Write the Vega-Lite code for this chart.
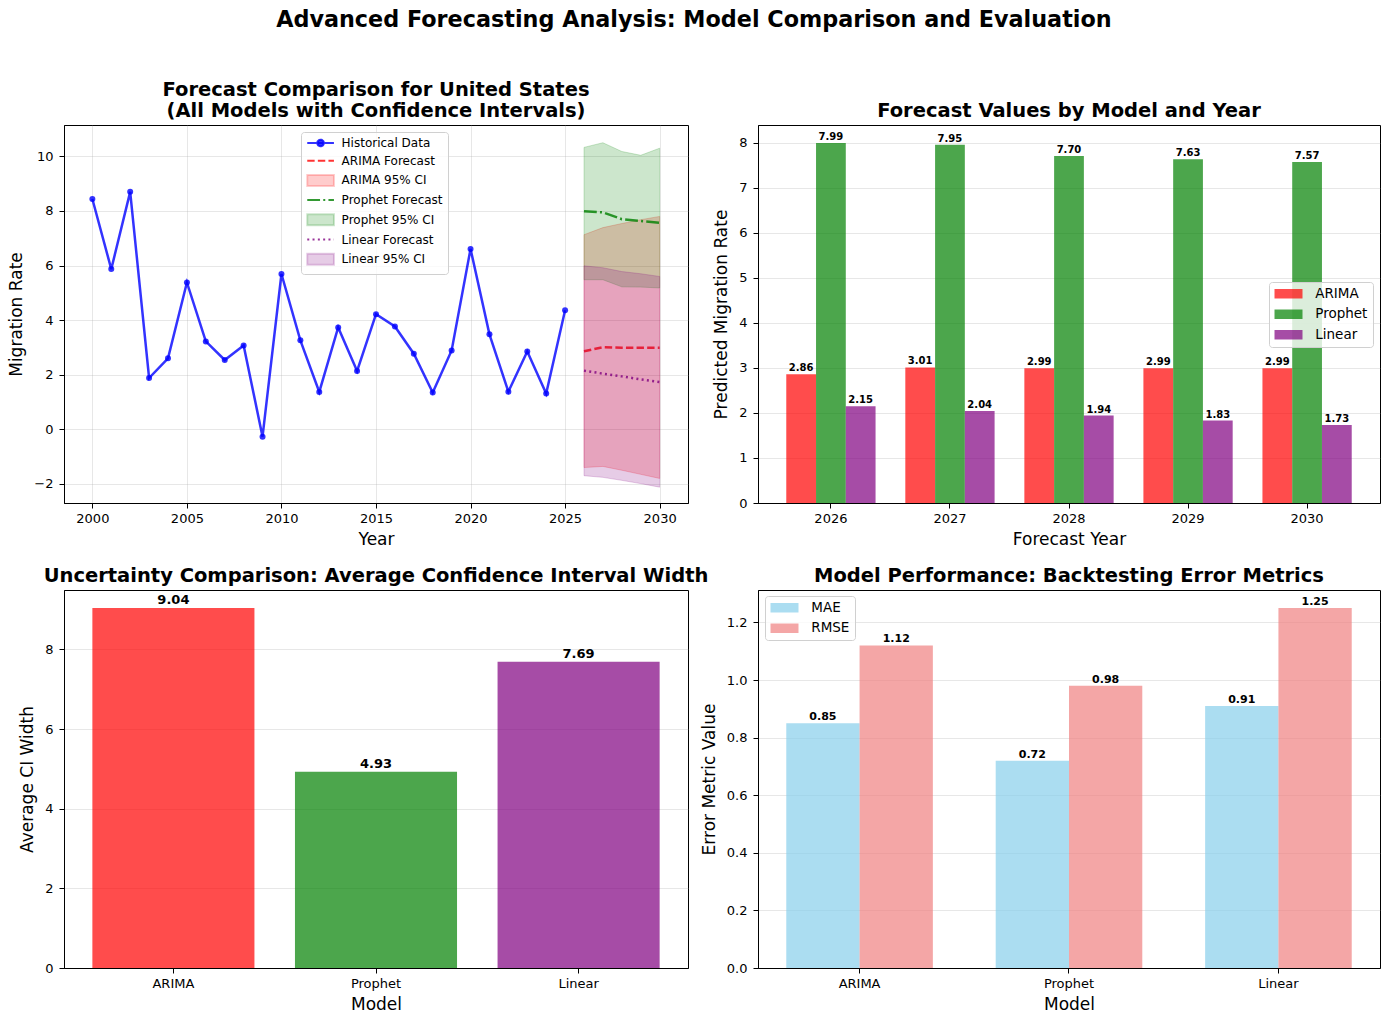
{
  "$schema": "https://vega.github.io/schema/vega-lite/v6.json",
  "padding": {"left": 7, "top": 9, "right": 9, "bottom": 10},
  "background": "white",
  "title": {
    "text": "Advanced Forecasting Analysis: Model Comparison and Evaluation",
    "fontSize": 22.3,
    "fontWeight": "bold",
    "anchor": "middle",
    "baseline": "alphabetic",
    "offset": 30
  },
  "datasets": {
    "series": [
      {"series": "Historical Data", "year": 2000, "value": 8.44},
      {"series": "Historical Data", "year": 2001, "value": 5.87},
      {"series": "Historical Data", "year": 2002, "value": 8.70},
      {"series": "Historical Data", "year": 2003, "value": 1.88},
      {"series": "Historical Data", "year": 2004, "value": 2.60},
      {"series": "Historical Data", "year": 2005, "value": 5.38},
      {"series": "Historical Data", "year": 2006, "value": 3.22},
      {"series": "Historical Data", "year": 2007, "value": 2.54},
      {"series": "Historical Data", "year": 2008, "value": 3.07},
      {"series": "Historical Data", "year": 2009, "value": -0.27},
      {"series": "Historical Data", "year": 2010, "value": 5.69},
      {"series": "Historical Data", "year": 2011, "value": 3.26},
      {"series": "Historical Data", "year": 2012, "value": 1.37},
      {"series": "Historical Data", "year": 2013, "value": 3.73},
      {"series": "Historical Data", "year": 2014, "value": 2.14},
      {"series": "Historical Data", "year": 2015, "value": 4.22},
      {"series": "Historical Data", "year": 2016, "value": 3.77},
      {"series": "Historical Data", "year": 2017, "value": 2.77},
      {"series": "Historical Data", "year": 2018, "value": 1.35},
      {"series": "Historical Data", "year": 2019, "value": 2.89},
      {"series": "Historical Data", "year": 2020, "value": 6.61},
      {"series": "Historical Data", "year": 2021, "value": 3.48},
      {"series": "Historical Data", "year": 2022, "value": 1.38},
      {"series": "Historical Data", "year": 2023, "value": 2.85},
      {"series": "Historical Data", "year": 2024, "value": 1.31},
      {"series": "Historical Data", "year": 2025, "value": 4.36},
      {"series": "ARIMA Forecast", "year": 2026, "value": 2.86},
      {"series": "ARIMA Forecast", "year": 2027, "value": 3.01},
      {"series": "ARIMA Forecast", "year": 2028, "value": 2.99},
      {"series": "ARIMA Forecast", "year": 2029, "value": 2.99},
      {"series": "ARIMA Forecast", "year": 2030, "value": 2.99},
      {"series": "Prophet Forecast", "year": 2026, "value": 7.99},
      {"series": "Prophet Forecast", "year": 2027, "value": 7.95},
      {"series": "Prophet Forecast", "year": 2028, "value": 7.70},
      {"series": "Prophet Forecast", "year": 2029, "value": 7.63},
      {"series": "Prophet Forecast", "year": 2030, "value": 7.57},
      {"series": "Linear Forecast", "year": 2026, "value": 2.15},
      {"series": "Linear Forecast", "year": 2027, "value": 2.04},
      {"series": "Linear Forecast", "year": 2028, "value": 1.94},
      {"series": "Linear Forecast", "year": 2029, "value": 1.83},
      {"series": "Linear Forecast", "year": 2030, "value": 1.73},
      {"series": "ARIMA 95% CI", "year": 2026, "lower": -1.40, "upper": 7.13},
      {"series": "ARIMA 95% CI", "year": 2027, "lower": -1.36, "upper": 7.39},
      {"series": "ARIMA 95% CI", "year": 2028, "lower": -1.50, "upper": 7.54},
      {"series": "ARIMA 95% CI", "year": 2029, "lower": -1.65, "upper": 7.68},
      {"series": "ARIMA 95% CI", "year": 2030, "lower": -1.80, "upper": 7.80},
      {"series": "Prophet 95% CI", "year": 2026, "lower": 5.48, "upper": 10.33},
      {"series": "Prophet 95% CI", "year": 2027, "lower": 5.48, "upper": 10.50},
      {"series": "Prophet 95% CI", "year": 2028, "lower": 5.22, "upper": 10.18},
      {"series": "Prophet 95% CI", "year": 2029, "lower": 5.21, "upper": 10.04},
      {"series": "Prophet 95% CI", "year": 2030, "lower": 5.18, "upper": 10.30},
      {"series": "Linear 95% CI", "year": 2026, "lower": -1.70, "upper": 5.99},
      {"series": "Linear 95% CI", "year": 2027, "lower": -1.76, "upper": 5.92},
      {"series": "Linear 95% CI", "year": 2028, "lower": -1.87, "upper": 5.78},
      {"series": "Linear 95% CI", "year": 2029, "lower": -1.99, "upper": 5.70},
      {"series": "Linear 95% CI", "year": 2030, "lower": -2.12, "upper": 5.60}
    ],
    "forecast": [
      {"year": "2026", "model": "ARIMA", "value": 2.86},
      {"year": "2026", "model": "Prophet", "value": 7.99},
      {"year": "2026", "model": "Linear", "value": 2.15},
      {"year": "2027", "model": "ARIMA", "value": 3.01},
      {"year": "2027", "model": "Prophet", "value": 7.95},
      {"year": "2027", "model": "Linear", "value": 2.04},
      {"year": "2028", "model": "ARIMA", "value": 2.99},
      {"year": "2028", "model": "Prophet", "value": 7.70},
      {"year": "2028", "model": "Linear", "value": 1.94},
      {"year": "2029", "model": "ARIMA", "value": 2.99},
      {"year": "2029", "model": "Prophet", "value": 7.63},
      {"year": "2029", "model": "Linear", "value": 1.83},
      {"year": "2030", "model": "ARIMA", "value": 2.99},
      {"year": "2030", "model": "Prophet", "value": 7.57},
      {"year": "2030", "model": "Linear", "value": 1.73}
    ],
    "ciwidth": [
      {"model": "ARIMA", "width": 9.04},
      {"model": "Prophet", "width": 4.93},
      {"model": "Linear", "width": 7.69}
    ],
    "errors": [
      {"model": "ARIMA", "metric": "MAE", "value": 0.85},
      {"model": "ARIMA", "metric": "RMSE", "value": 1.12},
      {"model": "Prophet", "metric": "MAE", "value": 0.72},
      {"model": "Prophet", "metric": "RMSE", "value": 0.98},
      {"model": "Linear", "metric": "MAE", "value": 0.91},
      {"model": "Linear", "metric": "RMSE", "value": 1.25}
    ]
  },
  "columns": 2,
  "spacing": {"row": 87, "column": 70},
  "bounds": "flush",
  "resolve": {
    "scale": {
      "color": "independent",
      "xOffset": "independent",
      "fill": "independent",
      "stroke": "independent",
      "shape": "independent",
      "strokeDash": "independent"
    }
  },
  "concat": [
    {
      "width": 624,
      "height": 378,
      "title": {"text": ["Forecast Comparison for United States", "(All Models with Confidence Intervals)"], "lineHeight": 21},
      "data": {"name": "series"},
      "encoding": {
        "x": {
          "field": "year",
          "type": "quantitative",
          "scale": {"domain": [1998.5, 2031.5], "nice": false, "zero": false},
          "axis": {"values": [2000, 2005, 2010, 2015, 2020, 2025, 2030], "format": "d", "title": "Year", "grid": true}
        },
        "y": {
          "field": "value",
          "type": "quantitative",
          "scale": {"domain": [-2.7, 11.15], "nice": false, "zero": false},
          "axis": {"values": [-2, 0, 2, 4, 6, 8, 10], "format": "d", "title": "Migration Rate", "grid": true}
        }
      },
      "layer": [
        {
          "transform": [{"filter": "datum.series === 'Historical Data'"}],
          "mark": {"type": "line", "color": "#0000ff", "opacity": 0.8, "strokeWidth": 2.5, "point": {"filled": true, "size": 36, "color": "#0000ff", "opacity": 0.8}}
        },
        {
          "transform": [{"filter": "datum.series === 'ARIMA Forecast'"}],
          "mark": {"type": "line", "color": "#ff0000", "opacity": 0.8, "strokeWidth": 2.5, "strokeDash": [7.4, 3.2]}
        },
        {
          "transform": [{"filter": "datum.series === 'ARIMA 95% CI'"}],
          "mark": {"type": "area", "color": "#ff0000", "fillOpacity": 0.2, "stroke": "#ff0000", "strokeOpacity": 0.2, "strokeWidth": 1},
          "encoding": {
            "y": {"field": "lower", "type": "quantitative"},
            "y2": {"field": "upper"}
          }
        },
        {
          "transform": [{"filter": "datum.series === 'Prophet Forecast'"}],
          "mark": {"type": "line", "color": "#008000", "opacity": 0.8, "strokeWidth": 2.5, "strokeDash": [12.8, 3.2, 2, 3.2]}
        },
        {
          "transform": [{"filter": "datum.series === 'Prophet 95% CI'"}],
          "mark": {"type": "area", "color": "#008000", "fillOpacity": 0.2, "stroke": "#008000", "strokeOpacity": 0.2, "strokeWidth": 1},
          "encoding": {
            "y": {"field": "lower", "type": "quantitative"},
            "y2": {"field": "upper"}
          }
        },
        {
          "transform": [{"filter": "datum.series === 'Linear Forecast'"}],
          "mark": {"type": "line", "color": "#800080", "opacity": 0.8, "strokeWidth": 2.5, "strokeDash": [2, 3.3]}
        },
        {
          "transform": [{"filter": "datum.series === 'Linear 95% CI'"}],
          "mark": {"type": "area", "color": "#800080", "fillOpacity": 0.2, "stroke": "#800080", "strokeOpacity": 0.2, "strokeWidth": 1},
          "encoding": {
            "y": {"field": "lower", "type": "quantitative"},
            "y2": {"field": "upper"}
          }
        },
        {
          "transform": [{"filter": "datum.series === 'legend only'"}],
          "mark": {"type": "point", "opacity": 1},
          "encoding": {
            "fill": {
              "field": "series",
              "type": "nominal",
              "scale": {
                "domain": ["Historical Data", "ARIMA Forecast", "ARIMA 95% CI", "Prophet Forecast", "Prophet 95% CI", "Linear Forecast", "Linear 95% CI"],
                "range": ["rgba(0,0,255,0.8)", "transparent", "rgba(255,0,0,0.2)", "transparent", "rgba(0,128,0,0.2)", "transparent", "rgba(128,0,128,0.2)"]
              },
              "legend": {
                "title": null,
                "orient": "none",
                "legendX": 237,
                "legendY": 7,
                "labelFontSize": 12,
                "symbolSize": 100,
                "symbolStrokeWidth": 2,
                "symbolOpacity": 1,
                "symbolOffset": 8.6,
                "labelOffset": 15,
                "rowPadding": 3.7,
                "padding": 5,
                "labelLimit": 300
              }
            },
            "stroke": {
              "field": "series",
              "type": "nominal",
              "scale": {
                "domain": ["Historical Data", "ARIMA Forecast", "ARIMA 95% CI", "Prophet Forecast", "Prophet 95% CI", "Linear Forecast", "Linear 95% CI"],
                "range": ["rgba(0,0,255,0.8)", "rgba(255,0,0,0.8)", "rgba(255,0,0,0.2)", "rgba(0,128,0,0.8)", "rgba(0,128,0,0.2)", "rgba(128,0,128,0.8)", "rgba(128,0,128,0.2)"]
              }
            },
            "shape": {
              "field": "series",
              "type": "nominal",
              "scale": {
                "domain": ["Historical Data", "ARIMA Forecast", "ARIMA 95% CI", "Prophet Forecast", "Prophet 95% CI", "Linear Forecast", "Linear 95% CI"],
                "range": [
                  "M-2.67,0H2.67M0.66,0A0.66,0.66,0,1,1,-0.66,0A0.66,0.66,0,1,1,0.66,0Z",
                  "M-2.67,0H2.67",
                  "M-2.67,-1.1H2.67V1.1H-2.67Z",
                  "M-2.67,0H2.67",
                  "M-2.67,-1.1H2.67V1.1H-2.67Z",
                  "M-2.67,0H2.67",
                  "M-2.67,-1.1H2.67V1.1H-2.67Z"
                ]
              }
            },
            "strokeDash": {
              "field": "series",
              "type": "nominal",
              "scale": {
                "domain": ["Historical Data", "ARIMA Forecast", "ARIMA 95% CI", "Prophet Forecast", "Prophet 95% CI", "Linear Forecast", "Linear 95% CI"],
                "range": [[1, 0], [7.4, 3.2], [1, 0], [12.8, 3.2, 2, 3.2], [1, 0], [2, 3.3], [1, 0]]
              }
            }
          }
        }
      ]
    },
    {
      "width": 622,
      "height": 378,
      "title": "Forecast Values by Model and Year",
      "data": {"name": "forecast"},
      "encoding": {
        "x": {
          "field": "year",
          "type": "nominal",
          "scale": {"paddingInner": 0.25, "paddingOuter": 0.2375},
          "axis": {"labelAngle": 0, "title": "Forecast Year"}
        },
        "xOffset": {
          "field": "model",
          "type": "nominal",
          "sort": ["ARIMA", "Prophet", "Linear"],
          "scale": {"paddingInner": 0, "paddingOuter": 0}
        },
        "y": {
          "field": "value",
          "type": "quantitative",
          "scale": {"domain": [0, 8.39], "nice": false},
          "axis": {"values": [0, 1, 2, 3, 4, 5, 6, 7, 8], "title": "Predicted Migration Rate", "grid": true}
        }
      },
      "layer": [
        {
          "mark": {"type": "bar", "opacity": 0.7},
          "encoding": {
            "color": {
              "field": "model",
              "type": "nominal",
              "sort": ["ARIMA", "Prophet", "Linear"],
              "scale": {"domain": ["ARIMA", "Prophet", "Linear"], "range": ["#ff0000", "#008000", "#800080"]},
              "legend": {
                "title": null,
                "orient": "none",
                "legendX": 511,
                "legendY": 157,
                "labelFontSize": 13.5,
                "symbolType": "M-2.8,-0.95H2.8V0.95H-2.8Z",
                "symbolSize": 100,
                "symbolStrokeWidth": 0,
                "symbolOpacity": 0.7,
                "symbolOffset": 7.75,
                "labelOffset": 20,
                "rowPadding": 5.5,
                "padding": 5
              }
            }
          }
        },
        {
          "mark": {"type": "text", "fontSize": 10, "fontWeight": "bold", "baseline": "bottom", "dy": -1, "color": "black"},
          "encoding": {
            "text": {"field": "value", "type": "quantitative", "format": ".2f"}
          }
        }
      ]
    },
    {
      "width": 624,
      "height": 378,
      "title": "Uncertainty Comparison: Average Confidence Interval Width",
      "data": {"name": "ciwidth"},
      "encoding": {
        "x": {
          "field": "model",
          "type": "nominal",
          "sort": ["ARIMA", "Prophet", "Linear"],
          "scale": {"paddingInner": 0.2, "paddingOuter": 0.14},
          "axis": {"labelAngle": 0, "title": "Model"}
        },
        "y": {
          "field": "width",
          "type": "quantitative",
          "scale": {"domain": [0, 9.492], "nice": false},
          "axis": {"values": [0, 2, 4, 6, 8], "title": "Average CI Width", "grid": true}
        }
      },
      "layer": [
        {
          "mark": {"type": "bar", "opacity": 0.7},
          "encoding": {
            "color": {
              "field": "model",
              "type": "nominal",
              "scale": {"domain": ["ARIMA", "Prophet", "Linear"], "range": ["#ff0000", "#008000", "#800080"]},
              "legend": null
            }
          }
        },
        {
          "mark": {"type": "text", "fontSize": 13, "fontWeight": "bold", "baseline": "bottom", "dy": -1, "color": "black"},
          "encoding": {
            "text": {"field": "width", "type": "quantitative", "format": ".2f"}
          }
        }
      ]
    },
    {
      "width": 622,
      "height": 378,
      "title": "Model Performance: Backtesting Error Metrics",
      "data": {"name": "errors"},
      "encoding": {
        "x": {
          "field": "model",
          "type": "nominal",
          "sort": ["ARIMA", "Prophet", "Linear"],
          "scale": {"paddingInner": 0.3, "paddingOuter": 0.135},
          "axis": {"labelAngle": 0, "title": "Model"}
        },
        "xOffset": {
          "field": "metric",
          "type": "nominal",
          "sort": ["MAE", "RMSE"],
          "scale": {"paddingInner": 0, "paddingOuter": 0}
        },
        "y": {
          "field": "value",
          "type": "quantitative",
          "scale": {"domain": [0, 1.3125], "nice": false},
          "axis": {"values": [0, 0.2, 0.4, 0.6, 0.8, 1.0, 1.2], "format": ".1f", "title": "Error Metric Value", "grid": true}
        }
      },
      "layer": [
        {
          "mark": {"type": "bar", "opacity": 0.7},
          "encoding": {
            "color": {
              "field": "metric",
              "type": "nominal",
              "scale": {"domain": ["MAE", "RMSE"], "range": ["#87ceeb", "#f08080"]},
              "legend": {
                "title": null,
                "orient": "none",
                "legendX": 7,
                "legendY": 6,
                "labelFontSize": 13.5,
                "symbolType": "M-2.8,-0.95H2.8V0.95H-2.8Z",
                "symbolSize": 100,
                "symbolStrokeWidth": 0,
                "symbolOpacity": 0.7,
                "symbolOffset": 7.75,
                "labelOffset": 20,
                "rowPadding": 5.5,
                "padding": 5
              }
            }
          }
        },
        {
          "mark": {"type": "text", "fontSize": 11, "fontWeight": "bold", "baseline": "bottom", "dy": -1, "color": "black"},
          "encoding": {
            "text": {"field": "value", "type": "quantitative", "format": ".2f"}
          }
        }
      ]
    }
  ],
  "config": {
    "font": "DejaVu Sans",
    "view": {"stroke": "black", "strokeWidth": 1},
    "title": {"fontSize": 19.5, "fontWeight": "bold", "color": "black", "baseline": "alphabetic", "offset": 3.5, "anchor": "middle"},
    "axis": {
      "domainColor": "black",
      "tickColor": "black",
      "labelColor": "black",
      "titleColor": "black",
      "labelFontSize": 13,
      "titleFontSize": 17,
      "titleFontWeight": "normal",
      "tickSize": 5,
      "labelPadding": 4,
      "titlePadding": 6,
      "gridColor": "#b0b0b0",
      "gridOpacity": 0.3,
      "grid": false
    },
    "axisY": {"labelPadding": 6, "titlePadding": 8},
    "legend": {
      "labelColor": "black",
      "strokeColor": "#d0d0d0",
      "fillColor": "rgba(255,255,255,0.8)",
      "cornerRadius": 3
    }
  }
}
